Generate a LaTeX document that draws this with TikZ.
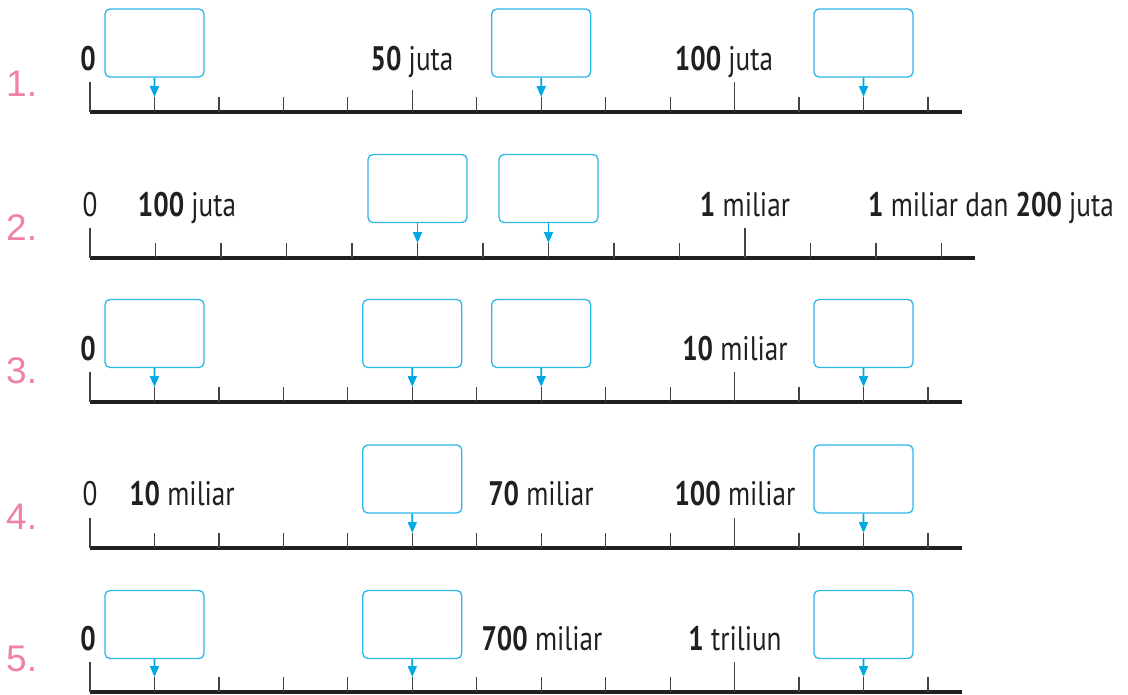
\documentclass[tikz,border=0pt]{standalone}
\usepackage{fontspec}
\setmainfont{PT Sans}[FakeStretch=0.8]
\newfontfamily\numfont{Liberation Sans}
\usetikzlibrary{arrows.meta}

\definecolor{boxblue}{RGB}{45,182,232}
\definecolor{arrowblue}{RGB}{0,168,228}
\definecolor{numpink}{RGB}{240,128,168}
\definecolor{lineblack}{RGB}{35,31,32}

\tikzset{
  answer/.style={draw=boxblue, line width=1.3pt, rounded corners=5pt,
    minimum width=99pt, minimum height=68pt, inner sep=0pt, fill=white},
  pointer/.style={draw=arrowblue, line width=1.8pt,
    -{Triangle[width=9pt,length=11pt]}},
  axis/.style={draw=lineblack, line width=4pt},
  tick/.style={draw=lineblack!85, line width=1.2pt},
  lbl/.style={font=\fontsize{34}{38}\selectfont, text=lineblack,
    inner sep=0pt, anchor=base},
  rownum/.style={font=\numfont\fontsize{37}{42}\selectfont, text=numpink,
    inner sep=0pt, anchor=base west}
}

\begin{document}
\begin{tikzpicture}[x=1pt, y=-1pt]
    \useasboundingbox (0,0) rectangle (1128,694);

    % Row 1
    \node[rownum] (n1) at (6,96) {1.};
    \draw[axis] (90,112) -- (962,112);
    \foreach \k in {0,...,13} {
        \coordinate (r1-\k) at ({90+64.46*\k},97);
        \draw[tick] (r1-\k) -- ++(0,15);
    }
    \draw[tick] (r1-0) -- ++(0,-15);
    \draw[tick] (r1-5) -- ++(0,-7);
    \draw[tick] (r1-10) -- ++(0,-15);
    \node[lbl] (l1a) at (88,70) {\bfseries 0};
    \node[lbl] (l1b) at (412,70) {{\bfseries 50} juta};
    \node[lbl] (l1c) at (724,70) {{\bfseries 100} juta};
    \node[answer] (b1a) at (154.5,43) {};
    \node[answer] (b1b) at (541.2,43) {};
    \node[answer] (b1c) at (863.5,43) {};
    \draw[pointer] (b1a.south) -- (r1-1);
    \draw[pointer] (b1b.south) -- (r1-7);
    \draw[pointer] (b1c.south) -- (r1-12);

    % Row 2
    \node[rownum] (n2) at (6,240) {2.};
    \draw[axis] (90,258) -- (975,258);
    \foreach \k in {0,...,13} {
        \coordinate (r2-\k) at ({90+65.5*\k},243);
        \draw[tick] (r2-\k) -- ++(0,15);
    }
    \draw[tick] (r2-0) -- ++(0,-15);
    \draw[tick] (r2-10) -- ++(0,-15);
    \node[lbl] (l2a) at (90,216) {0};
    \node[lbl] (l2b) at (187,216) {{\bfseries 100} juta};
    \node[lbl] (l2c) at (745,216) {{\bfseries 1} miliar};
    \node[lbl] (l2d) at (991,216) {{\bfseries 1} miliar dan {\bfseries 200} juta};
    \node[answer] (b2a) at (417.5,188.5) {};
    \node[answer] (b2b) at (548.5,188.5) {};
    \draw[pointer] (b2a.south) -- (r2-5);
    \draw[pointer] (b2b.south) -- (r2-7);

    % Row 3
    \node[rownum] (n3) at (6,383) {3.};
    \draw[axis] (90,402) -- (962,402);
    \foreach \k in {0,...,13} {
        \coordinate (r3-\k) at ({90+64.46*\k},387);
        \draw[tick] (r3-\k) -- ++(0,15);
    }
    \draw[tick] (r3-0) -- ++(0,-15);
    \draw[tick] (r3-10) -- ++(0,-15);
    \node[lbl] (l3a) at (88,360) {\bfseries 0};
    \node[lbl] (l3b) at (735,360) {{\bfseries 10} miliar};
    \node[answer] (b3a) at (154.5,333.5) {};
    \node[answer] (b3b) at (412.3,333.5) {};
    \node[answer] (b3c) at (541.2,333.5) {};
    \node[answer] (b3d) at (863.5,333.5) {};
    \draw[pointer] (b3a.south) -- (r3-1);
    \draw[pointer] (b3b.south) -- (r3-5);
    \draw[pointer] (b3c.south) -- (r3-7);
    \draw[pointer] (b3d.south) -- (r3-12);

    % Row 4
    \node[rownum] (n4) at (6,529) {4.};
    \draw[axis] (90,548) -- (962,548);
    \foreach \k in {0,...,13} {
        \coordinate (r4-\k) at ({90+64.46*\k},533);
        \draw[tick] (r4-\k) -- ++(0,15);
    }
    \draw[tick] (r4-0) -- ++(0,-15);
    \draw[tick] (r4-10) -- ++(0,-15);
    \node[lbl] (l4a) at (90,505) {0};
    \node[lbl] (l4b) at (182,505) {{\bfseries 10} miliar};
    \node[lbl] (l4c) at (541,505) {{\bfseries 70} miliar};
    \node[lbl] (l4d) at (735,505) {{\bfseries 100} miliar};
    \node[answer] (b4a) at (412.3,479) {};
    \node[answer] (b4b) at (863.5,479) {};
    \draw[pointer] (b4a.south) -- (r4-5);
    \draw[pointer] (b4b.south) -- (r4-12);

    % Row 5
    \node[rownum] (n5) at (6,671) {5.};
    \draw[axis] (90,692) -- (962,692);
    \foreach \k in {0,...,13} {
        \coordinate (r5-\k) at ({90+64.46*\k},677);
        \draw[tick] (r5-\k) -- ++(0,15);
    }
    \draw[tick] (r5-0) -- ++(0,-15);
    \draw[tick] (r5-10) -- ++(0,-15);
    \node[lbl] (l5a) at (88,650) {\bfseries 0};
    \node[lbl] (l5b) at (542,650) {{\bfseries 700} miliar};
    \node[lbl] (l5c) at (735,650) {{\bfseries 1} triliun};
    \node[answer] (b5a) at (154.5,624.5) {};
    \node[answer] (b5b) at (412.3,624.5) {};
    \node[answer] (b5c) at (863.5,624.5) {};
    \draw[pointer] (b5a.south) -- (r5-1);
    \draw[pointer] (b5b.south) -- (r5-5);
    \draw[pointer] (b5c.south) -- (r5-12);
\end{tikzpicture}
\end{document}
